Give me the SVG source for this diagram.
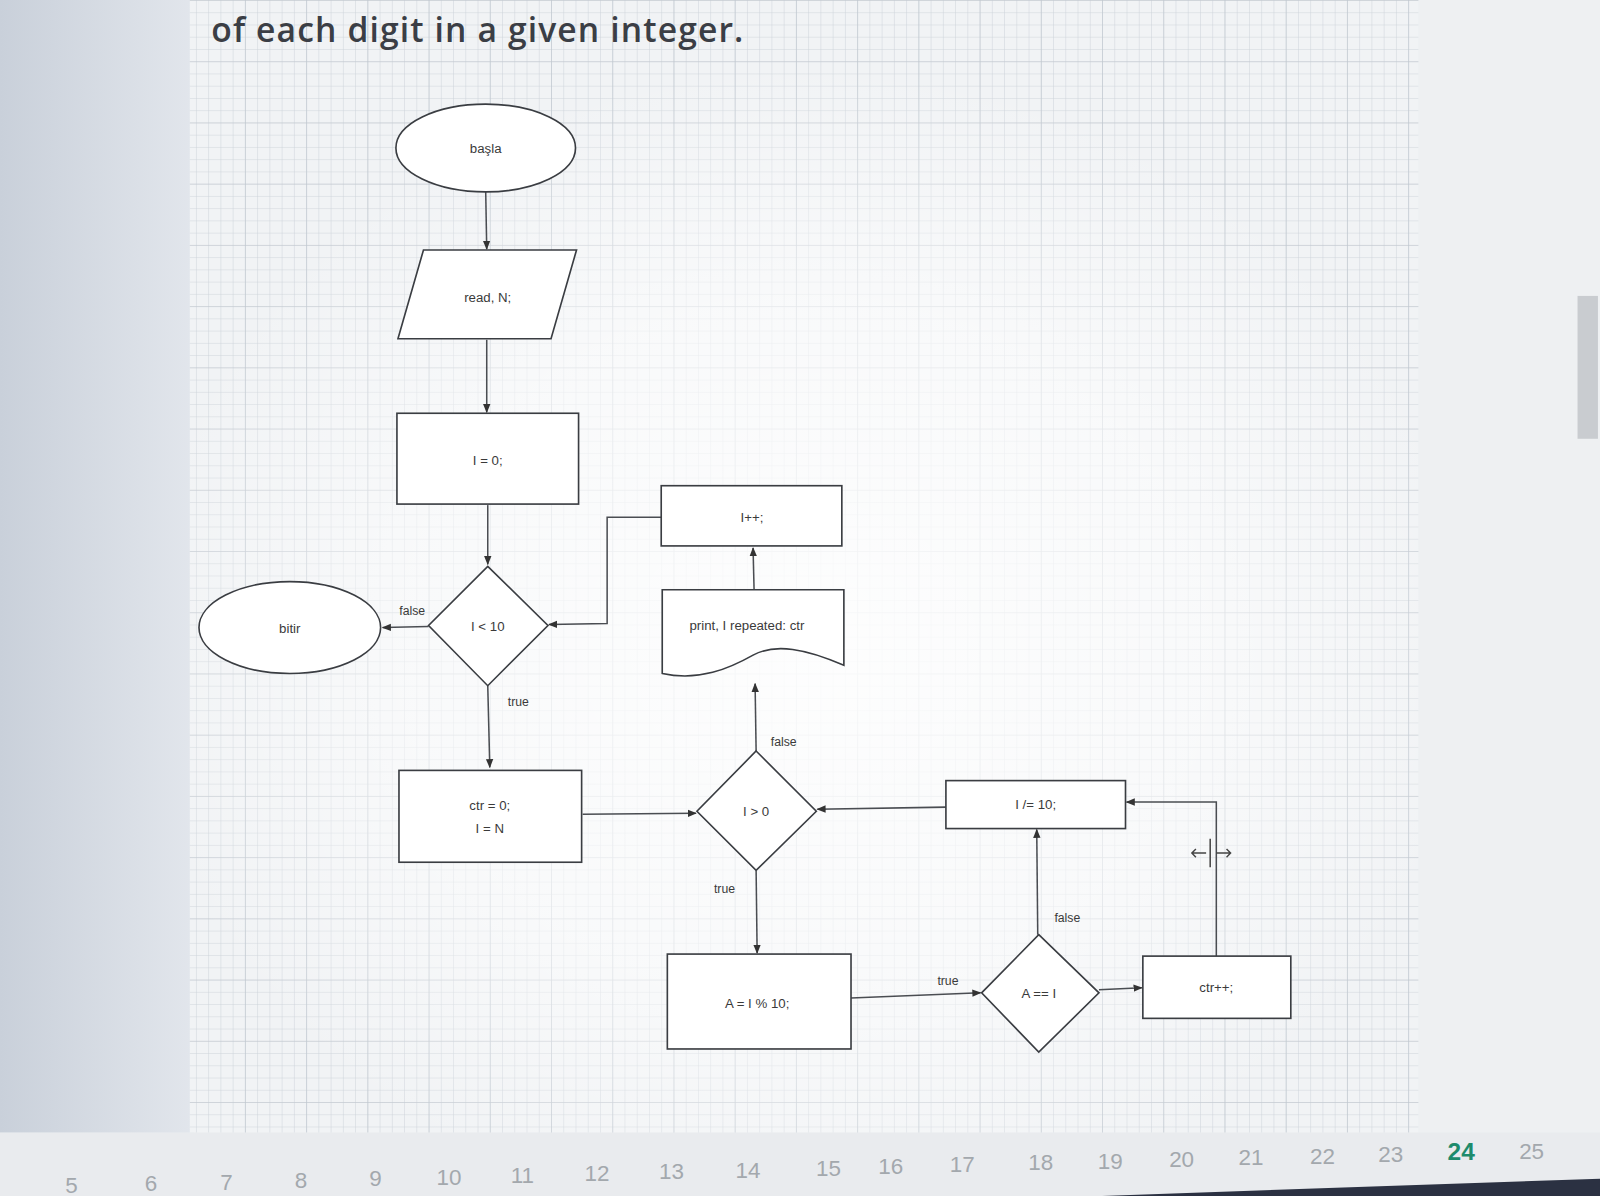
<svg xmlns="http://www.w3.org/2000/svg" width="1600" height="1196" viewBox="0 0 1600 1196">
<style>
.shape{fill:#ffffff;stroke:#3a3d42;stroke-width:1.6}
.conn{fill:none;stroke:#4a4d52;stroke-width:1.5}
.t{font-family:"Liberation Sans",Arial,sans-serif;font-size:13px;fill:#3a3a3a;text-anchor:middle}
.lbl{font-family:"Liberation Sans",Arial,sans-serif;font-size:12px;fill:#3a3a3a;text-anchor:middle}
.pg{font-family:"Liberation Sans",Arial,sans-serif;font-size:22px;fill:#a3a8ad;text-anchor:middle}
</style>
<defs>
<marker id="ah" viewBox="0 0 10 10" refX="9" refY="5" markerWidth="9" markerHeight="9" markerUnits="userSpaceOnUse" orient="auto">
<path d="M0,1 L10,5 L0,9 Z" fill="#333"/>
</marker>
<pattern id="grid" width="12" height="12" patternUnits="userSpaceOnUse">
<path d="M12,0 L0,0 L0,12" fill="none" stroke="#cdd3da" stroke-width="1"/>
</pattern>
<pattern id="gridMaj" width="60" height="60" patternUnits="userSpaceOnUse">
<path d="M60,0 L0,0 L0,60" fill="none" stroke="#bfc6ce" stroke-width="1.2"/>
</pattern>
<linearGradient id="leftG" x1="0" y1="0" x2="1" y2="0">
<stop offset="0" stop-color="#c9d0da"/>
<stop offset="1" stop-color="#e2e6ec"/>
</linearGradient>
<radialGradient id="glare" cx="0.5" cy="0.55" r="0.55">
<stop offset="0" stop-color="#ffffff" stop-opacity="0.9"/>
<stop offset="0.6" stop-color="#ffffff" stop-opacity="0.55"/>
<stop offset="1" stop-color="#ffffff" stop-opacity="0"/>
</radialGradient>
</defs>

<rect x="0" y="0" width="1600" height="1196" fill="#eceef1"/>
<g transform="scale(1.0204)">
<!-- background -->
<rect x="0" y="0" width="190" height="1110" fill="url(#leftG)"/>
<rect x="1390" y="0" width="210" height="1110" fill="#eef0f2"/>
<rect x="1546" y="290" width="20" height="140" fill="#c9ccd0"/>
<rect x="186" y="0" width="1204" height="1110" fill="#f1f3f5"/>
<rect x="186" y="0" width="1204" height="1110" fill="url(#grid)"/>
<rect x="186" y="0" width="1204" height="1110" fill="url(#gridMaj)"/>
<rect x="186" y="60" width="1204" height="1050" fill="url(#glare)"/>
<rect x="0" y="1110" width="1600" height="86" fill="#e9ebee"/>
<polygon points="1080,1172 1600,1154 1600,1172" fill="#2b3142"/>

<text x="207" y="41" font-family="'Open Sans','Liberation Sans',sans-serif" font-size="33" font-weight="600" letter-spacing="1.1" fill="#3b3e45">of each digit in a given integer.</text>

<!-- page numbers -->
<g id="pages">
<text class="pg" x="70" y="1169">5</text>
<text class="pg" x="148" y="1167">6</text>
<text class="pg" x="222" y="1166">7</text>
<text class="pg" x="295" y="1164">8</text>
<text class="pg" x="368" y="1162">9</text>
<text class="pg" x="440" y="1161">10</text>
<text class="pg" x="512" y="1159">11</text>
<text class="pg" x="585" y="1157">12</text>
<text class="pg" x="658" y="1155">13</text>
<text class="pg" x="733" y="1154">14</text>
<text class="pg" x="812" y="1152">15</text>
<text class="pg" x="873" y="1151">16</text>
<text class="pg" x="943" y="1149">17</text>
<text class="pg" x="1020" y="1147">18</text>
<text class="pg" x="1088" y="1146">19</text>
<text class="pg" x="1158" y="1144">20</text>
<text class="pg" x="1226" y="1142">21</text>
<text class="pg" x="1296" y="1141">22</text>
<text class="pg" x="1363" y="1139">23</text>
<text x="1432" y="1137" font-family="'Liberation Sans',Arial,sans-serif" font-size="24" font-weight="bold" fill="#1e8b6c" text-anchor="middle">24</text>
<text class="pg" x="1501" y="1136">25</text>
</g>

<!-- connectors -->
<g id="connectors">
<line class="conn" x1="476" y1="188" x2="477" y2="244" marker-end="url(#ah)"/>
<line class="conn" x1="477" y1="333" x2="477" y2="404" marker-end="url(#ah)"/>
<line class="conn" x1="478" y1="495" x2="478" y2="553" marker-end="url(#ah)"/>
<line class="conn" x1="420" y1="614" x2="375" y2="615" marker-end="url(#ah)"/>
<text class="lbl" x="404" y="603">false</text>
<line class="conn" x1="478" y1="672" x2="480" y2="752" marker-end="url(#ah)"/>
<text class="lbl" x="508" y="692">true</text>
<line class="conn" x1="571" y1="798" x2="682" y2="797" marker-end="url(#ah)"/>
<line class="conn" x1="741" y1="736" x2="740" y2="670" marker-end="url(#ah)"/>
<text class="lbl" x="768" y="731">false</text>
<line class="conn" x1="739" y1="578" x2="738" y2="537" marker-end="url(#ah)"/>
<polyline class="conn" points="648,507 595,507 595,611 538,612" marker-end="url(#ah)"/>
<line class="conn" x1="741" y1="853" x2="742" y2="934" marker-end="url(#ah)"/>
<text class="lbl" x="710" y="875">true</text>
<line class="conn" x1="834" y1="978" x2="961" y2="973" marker-end="url(#ah)"/>
<text class="lbl" x="929" y="965">true</text>
<line class="conn" x1="1077" y1="970" x2="1119" y2="968" marker-end="url(#ah)"/>
<polyline class="conn" points="1192,937 1192,786 1104,786" marker-end="url(#ah)"/>
<line class="conn" x1="1017" y1="916" x2="1016" y2="813" marker-end="url(#ah)"/>
<text class="lbl" x="1046" y="904">false</text>
<line class="conn" x1="927" y1="791" x2="801" y2="793" marker-end="url(#ah)"/>
<!-- resize cursor icon -->
<line x1="1186" y1="822" x2="1186" y2="850" stroke="#444" stroke-width="1.5"/>
<path d="M1182,836 L1168,836 M1172,832 L1168,836 L1172,840 M1192,836 L1206,836 M1202,832 L1206,836 L1202,840" fill="none" stroke="#444" stroke-width="1.4"/>
</g>

<!-- nodes -->
<g id="start">
<ellipse class="shape" cx="476" cy="145" rx="88" ry="43"/>
<text class="t" x="476" y="150">başla</text>
</g>
<g id="read">
<polygon class="shape" points="415,245 565,245 540,332 390,332"/>
<text class="t" x="478" y="296">read, N;</text>
</g>
<g id="init">
<rect class="shape" x="389" y="405" width="178" height="89"/>
<text class="t" x="478" y="456">I = 0;</text>
</g>
<g id="loop">
<polygon class="shape" points="478,555 537,613 478,672 420,613"/>
<text class="t" x="478" y="618">I &lt; 10</text>
</g>
<g id="end">
<ellipse class="shape" cx="284" cy="615" rx="89" ry="45"/>
<text class="t" x="284" y="620">bitir</text>
</g>
<g id="incr">
<rect class="shape" x="648" y="476" width="177" height="59"/>
<text class="t" x="737" y="512">I++;</text>
</g>
<g id="print">
<path class="shape" d="M649,578 L827,578 L827,652 C790,636 760,630 738,642 C715,655 685,668 649,660 Z"/>
<text class="t" x="732" y="617">print, I repeated: ctr</text>
</g>
<g id="setup">
<rect class="shape" x="391" y="755" width="179" height="90"/>
<text class="t" x="480" y="794">ctr = 0;</text>
<text class="t" x="480" y="816">I = N</text>
</g>
<g id="check">
<polygon class="shape" points="741,736 800,795 741,853 683,795"/>
<text class="t" x="741" y="800">I &gt; 0</text>
</g>
<g id="digit">
<rect class="shape" x="654" y="935" width="180" height="93"/>
<text class="t" x="742" y="988">A = I % 10;</text>
</g>
<g id="compare">
<polygon class="shape" points="1018,916 1077,973 1018,1031 962,973"/>
<text class="t" x="1018" y="978">A == I</text>
</g>
<g id="count">
<rect class="shape" x="1120" y="937" width="145" height="61"/>
<text class="t" x="1192" y="972">ctr++;</text>
</g>
<g id="divide">
<rect class="shape" x="927" y="765" width="176" height="47"/>
<text class="t" x="1015" y="793">I /= 10;</text>
</g>
</g>
</svg>
